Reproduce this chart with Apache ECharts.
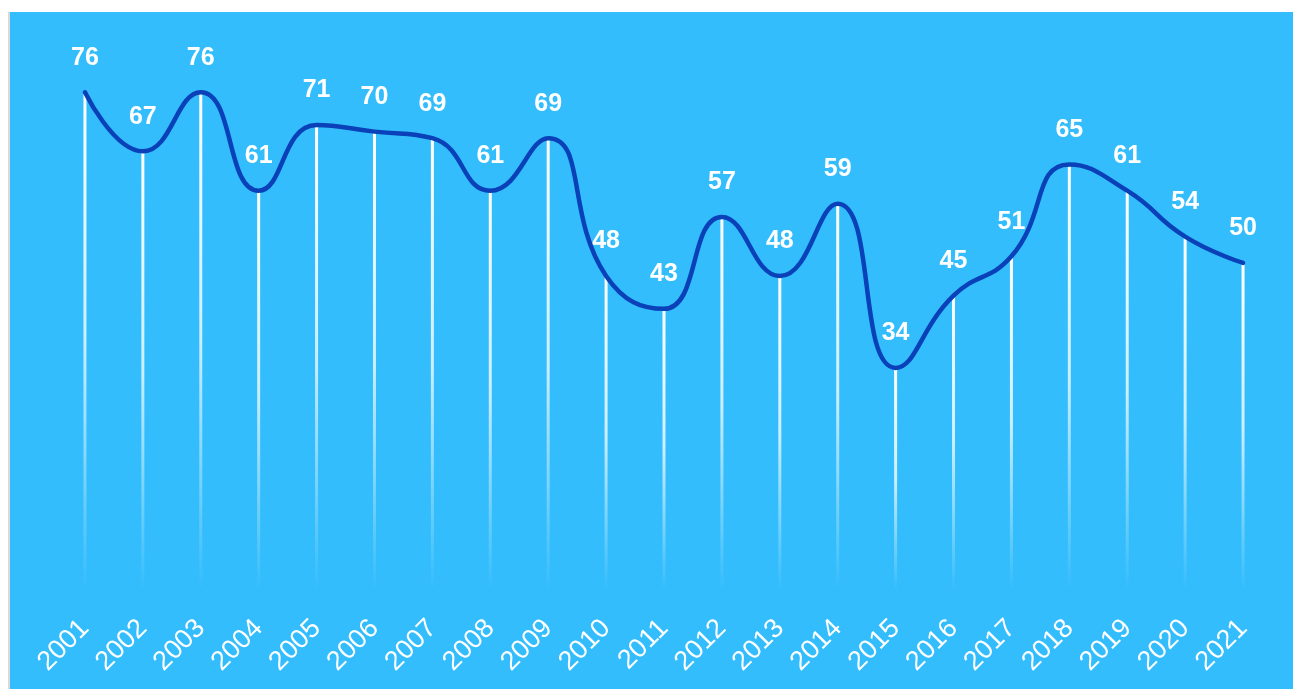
<!DOCTYPE html>
<html>
<head>
<meta charset="utf-8">
<script src="https://cdn.jsdelivr.net/npm/echarts@6/dist/echarts.min.js"></script>
<style>
  html, body { margin: 0; padding: 0; background: #fff; overflow: hidden; }
  #wrap {
    position: absolute; left: 8px; top: 12px; right: 0; bottom: 0;
    border-left: 2px solid #d9d9d9; background: #33bdfd;
  }
  #chart { width: 100%; height: 100%; }
</style>
</head>
<body>
<div id="wrap"><div id="chart"></div></div>
<script>
// 年份
const years = ['2001', '2002', '2003', '2004', '2005', '2006', '2007', '2008', '2009', '2010', '2011',
  '2012', '2013', '2014', '2015', '2016', '2017', '2018', '2019', '2020', '2021']
// 数值
const values = [76, 67, 76, 61, 71, 70, 69, 61, 69, 48, 43, 57, 48, 59, 34, 45, 51, 65, 61, 54, 50]

const chart = echarts.init(document.getElementById('chart'))
const option = {
  backgroundColor: 'transparent',
  grid: {
    top: 54,
    left: 46,
    right: 21,
    bottom: 98
  },
  xAxis: {
    type: 'category',
    data: years,
    axisLine: { show: false },
    axisTick: { show: false },
    axisLabel: {
      rotate: 45,
      color: '#fff',
      fontSize: 27,
      fontFamily: 'Liberation Sans, Arial',
      margin: 33,
      interval: 0
    }
  },
  yAxis: {
    type: 'value',
    min: 0,
    max: 80,
    show: false
  },
  series: [
    {
      type: 'bar',
      data: values,
      barWidth: 3,
      z: 1,
      itemStyle: {
        color: new echarts.graphic.LinearGradient(0, 0, 0, 1, [
          { offset: 0, color: 'rgba(255,255,255,1)' },
          { offset: 0.5, color: 'rgba(255,255,255,0.75)' },
          { offset: 1, color: 'rgba(255,255,255,0)' }
        ])
      },
      label: {
        show: true,
        position: 'top',
        distance: 22,
        color: '#fff',
        fontSize: 25,
        fontWeight: 'bold',
        fontFamily: 'Liberation Sans, Arial'
      }
    },
    {
      type: 'line',
      data: values,
      smooth: 0.5,
      symbol: 'none',
      z: 3,
      lineStyle: {
        color: '#0a40b8',
        width: 4.5,
        cap: 'round'
      }
    }
  ]
}
chart.setOption(option)
window.onresize = () => {
  chart.resize()
}
</script>
</body>
</html>
